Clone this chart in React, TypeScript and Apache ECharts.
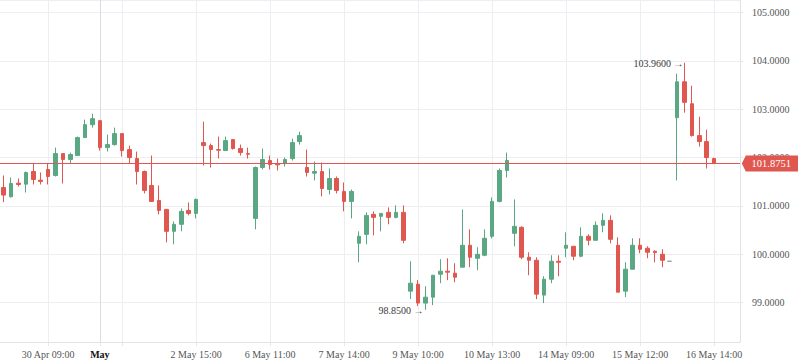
import React, { useEffect, useRef } from "react";
import * as echarts from "echarts";

// OHLC values (97 candles)
const openP = [
  101.381, 101.189, 101.471, 101.45, 101.711, 101.533, 101.753, 101.629, 102.082, 101.959,
  102.041, 102.412, 102.68, 102.763, 102.206, 102.268, 102.495, 102.165, 101.979, 101.711,
  101.423, 101.113, 100.928, 100.474, 100.619, 100.907, 100.845, 102.309, 102.247, 102.165,
  102.144, 102.371, 102.186, 102.082, 100.742, 101.794, 101.938, 101.876, 101.876, 101.979,
  102.33, 101.794, 101.677, 101.711, 101.34, 101.567, 101.299, 101.093, 100.227, 100.412,
  100.825, 100.784, 100.866, 100.763, 100.866, 99.237, 99.381, 98.99, 99.113, 99.588,
  99.649, 99.608, 99.732, 100.186, 99.917, 99.979, 100.371, 101.093, 101.732, 100.433,
  100.557, 99.938, 99.876, 99.155, 99.484, 99.856, 100.124, 100.165, 99.959, 100.371,
  100.289, 100.598, 100.701, 100.186, 99.237, 99.691, 100.186, 100.124, 100.062, 100.0,
  99.856, 102.825, 103.567, 103.113, 102.454, 102.33, 101.979,
];
const highP = [
  101.629, 101.588, 101.567, 101.711, 101.876, 101.691, 101.876, 102.206, 102.082, 102.103,
  102.433, 102.784, 102.907, 102.763, 102.474, 102.619, 102.495, 102.247, 102.124, 101.732,
  102.041, 101.423, 100.928, 100.68, 100.948, 101.072, 101.155, 102.742, 102.289, 102.433,
  102.433, 102.371, 102.268, 102.206, 101.815, 102.186, 102.041, 101.979, 102.0, 102.392,
  102.536, 102.165, 101.918, 101.897, 101.773, 101.608, 101.485, 101.34, 100.474, 100.866,
  100.887, 100.845, 100.969, 101.01, 101.01, 99.856, 99.464, 99.34, 99.567, 99.897,
  99.917, 99.814, 100.928, 100.515, 100.144, 100.515, 101.175, 101.773, 102.103, 101.134,
  100.577, 100.041, 99.938, 99.546, 99.979, 99.979, 100.454, 100.165, 100.557, 100.412,
  100.68, 100.845, 100.804, 100.351, 99.835, 100.33, 100.33, 100.165, 100.082, 100.103,
  99.856, 103.732, 103.96, 103.485, 102.845, 102.577, 101.999,
];
const lowP = [
  101.079, 101.175, 101.402, 101.278, 101.443, 101.443, 101.443, 101.608, 101.464, 101.876,
  102.041, 102.412, 102.619, 102.144, 102.124, 102.247, 102.021, 101.876, 101.443, 101.258,
  101.093, 100.825, 100.247, 100.206, 100.474, 100.804, 100.742, 101.835, 101.794, 101.979,
  102.144, 102.165, 102.041, 101.979, 100.515, 101.753, 101.753, 101.732, 101.815, 101.938,
  102.268, 101.608, 101.526, 101.196, 101.237, 101.258, 100.887, 100.742, 99.835, 100.206,
  100.392, 100.474, 100.619, 100.742, 100.227, 99.072, 98.928, 98.85, 98.948, 99.402,
  99.464, 99.423, 99.732, 99.732, 99.67, 99.959, 100.33, 101.072, 101.588, 100.165,
  99.897, 99.567, 99.072, 98.99, 99.402, 99.546, 99.938, 99.876, 99.938, 100.186,
  100.289, 100.454, 100.227, 99.216, 99.113, 99.691, 100.021, 99.918, 99.835, 99.732,
  99.856, 101.526, 102.928, 102.433, 102.227, 101.773, 101.8751,
];
const closeP = [
  101.223, 101.464, 101.443, 101.691, 101.546, 101.505, 101.608, 102.082, 101.959, 102.062,
  102.412, 102.68, 102.804, 102.206, 102.268, 102.495, 102.144, 102.0, 101.711, 101.32,
  101.093, 100.907, 100.474, 100.619, 100.887, 100.845, 101.134, 102.247, 102.165, 102.151,
  102.35, 102.186, 102.103, 102.069, 101.794, 101.959, 101.856, 101.849, 101.959, 102.309,
  102.454, 101.691, 101.711, 101.361, 101.567, 101.32, 101.093, 101.299, 100.371, 100.804,
  100.763, 100.845, 100.763, 100.866, 100.289, 99.402, 98.99, 99.113, 99.567, 99.649,
  99.629, 99.526, 100.186, 99.938, 99.999, 100.33, 101.093, 101.732, 101.938, 100.577,
  99.938, 99.876, 99.175, 99.484, 99.856, 99.835, 100.186, 99.959, 100.371, 100.289,
  100.598, 100.701, 100.309, 99.216, 99.691, 100.186, 100.103, 100.041, 100.034, 99.876,
  99.856, 103.567, 103.141, 102.454, 102.33, 102.0, 101.8751,
];

// x-axis ticks (category indices) and their labels
const tickIndex = [6, 13, 16, 26, 36, 46, 56, 66, 76, 86, 96];
const tickLabels = [
  "30 Apr 09:00", "May", "", "2 May 15:00", "6 May 11:00", "7 May 14:00",
  "9 May 10:00", "10 May 13:00", "14 May 09:00", "15 May 12:00", "16 May 14:00",
];
const monthTick = 13;
const slotCount = 100; // 97 candles + empty right offset

const lastPrice = 101.8751;
const maxPoint = { index: 92, value: 103.96 };
const minPoint = { index: 57, value: 98.85 };

const UP = "#5aa783";
const DOWN = "#e0574f";
const FONT = "'Liberation Serif', 'Times New Roman', serif";

export default function App() {
  const ref = useRef<HTMLDivElement>(null);
  useEffect(() => {
    document.body.style.margin = "0";
    const chart = echarts.init(ref.current!, null, { renderer: "svg" });
    const categories = Array.from({ length: slotCount }, (_, i) => String(i));
    const candles = openP.map((o, i) => [o, closeP[i], lowP[i], highP[i]]);
    const isTick = (i: number) => tickIndex.indexOf(i) >= 0;
    const isLabel = (i: number) => {
      const k = tickIndex.indexOf(i);
      return k >= 0 && tickLabels[k] !== "";
    };
    const option: any = {
      animation: false,
      backgroundColor: "#ffffff",
      textStyle: { fontFamily: FONT },
      grid: { left: 0, right: 58, top: -1, bottom: 21 },
      xAxis: {
        type: "category",
        data: categories,
        boundaryGap: true,
        axisLine: { show: true, lineStyle: { color: "#dfe2e6", width: 1 } },
        axisTick: {
          show: true,
          alignWithLabel: true,
          interval: isTick,
          length: 4,
          lineStyle: { color: "#e3e6ea" },
        },
        axisLabel: {
          interval: isLabel,
          margin: 7,
          color: "#555",
          fontSize: 10,
          fontFamily: FONT,
          formatter: (v: string) => {
            const i = Number(v);
            const k = tickIndex.indexOf(i);
            if (k < 0) return "";
            return i === monthTick ? "{b|" + tickLabels[k] + "}" : tickLabels[k];
          },
          rich: { b: { fontWeight: "bold", color: "#111", fontSize: 10, fontFamily: FONT } },
        },
        splitLine: {
          show: true,
          alignWithLabel: true,
          interval: isTick,
          lineStyle: {
            color: tickIndex.map((i) => (i === monthTick ? "#d9dde2" : "#eceef1")),
            width: 1,
          },
        },
      },
      yAxis: {
        type: "value",
        position: "right",
        min: 98.1856,
        max: 105.258,
        splitNumber: 7,
        axisLine: { show: true, lineStyle: { color: "#dfe2e6" } },
        axisTick: { show: true, length: 3, lineStyle: { color: "#e3e6ea" } },
        axisLabel: {
          margin: 12,
          color: "#555",
          fontSize: 10,
          fontFamily: FONT,
          showMinLabel: false,
          showMaxLabel: false,
          formatter: (v: number) => v.toFixed(4),
        },
        splitLine: { show: true, lineStyle: { color: "#eceef1", width: 1 } },
      },
      series: [
        {
          type: "candlestick",
          data: candles,
          barWidth: 4,
          z: 2,
          itemStyle: {
            color: UP,
            color0: DOWN,
            borderColor: UP,
            borderColor0: DOWN,
            borderColorDoji: "#999999",
            borderWidth: 1,
          },
          markLine: {
            silent: true,
            symbol: ["none", "none"],
            label: { show: false },
            lineStyle: { color: DOWN, width: 1, type: "solid" },
            data: [{ yAxis: lastPrice }],
          },
          markPoint: {
            silent: true,
            data: [
              {
                coord: [slotCount - 1, lastPrice],
                symbol: "path://M0,8 L4,0 L57,0 L57,16 L4,16 Z",
                symbolSize: [57, 16],
                symbolOffset: [34, 0],
                itemStyle: { color: DOWN },
                label: {
                  show: true,
                  position: "inside",
                  color: "#ffffff",
                  fontSize: 10.5,
                  fontFamily: FONT,
                  offset: [1, 0],
                  formatter: lastPrice.toFixed(4),
                },
              },
              {
                coord: [maxPoint.index, maxPoint.value],
                symbol: "circle",
                symbolSize: 0,
                itemStyle: { color: "transparent" },
                label: {
                  show: true,
                  position: "left",
                  distance: 1,
                  offset: [0, 1],
                  color: "#3a3a3a",
                  fontSize: 10,
                  fontFamily: FONT,
                  formatter: maxPoint.value.toFixed(4) + " \u2192",
                },
              },
              {
                coord: [minPoint.index, minPoint.value],
                symbol: "circle",
                symbolSize: 0,
                itemStyle: { color: "transparent" },
                label: {
                  show: true,
                  position: "left",
                  distance: 2,
                  offset: [0, 1],
                  color: "#3a3a3a",
                  fontSize: 10,
                  fontFamily: FONT,
                  formatter: minPoint.value.toFixed(4) + " \u2192",
                },
              },
            ],
          },
        },
      ],
    };
    chart.setOption(option);
    return () => chart.dispose();
  }, []);
  return (
    <div
      ref={ref}
      style={{ position: "fixed", left: 0, top: 0, width: 798, height: 363, background: "#fff" }}
    />
  );
}
